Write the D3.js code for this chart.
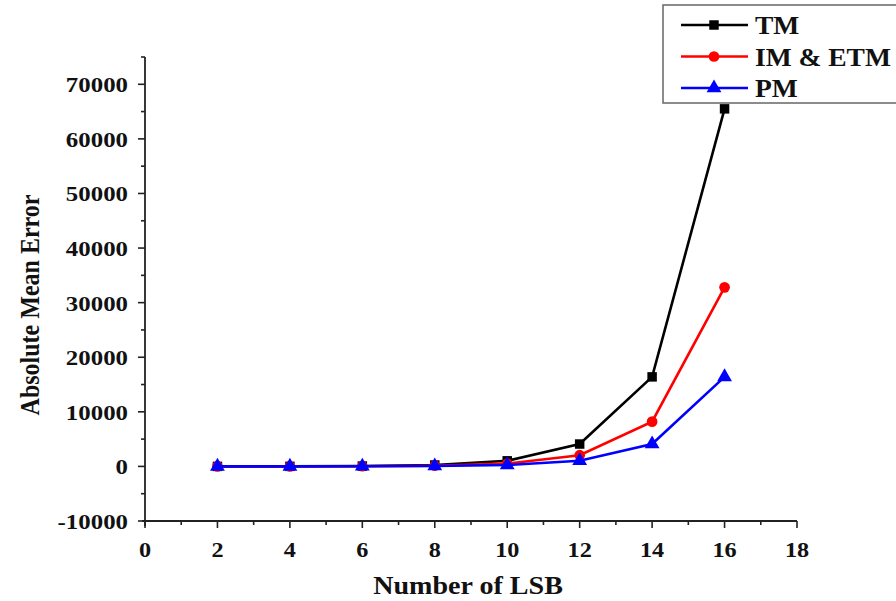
<!DOCTYPE html>
<html><head><meta charset="utf-8">
<script src="https://cdn.jsdelivr.net/npm/d3@7"></script>
<style>body{margin:0;background:#fff}svg{display:block}</style>
</head><body>
<svg id="c" width="896" height="601"></svg>
<script>
const lsb = [2,4,6,8,10,12,14,16];
const tmValues = [4, 16, 64, 256, 1024, 4100, 16400, 65500];
const imEtmValues = [2, 8, 32, 128, 512, 2050, 8200, 32800];
const pmValues = [1, 4, 16, 64, 256, 1030, 4100, 16400];
const seriesNames = ["TM", "IM & ETM", "PM"];
const xTicks = [0,2,4,6,8,10,12,14,16,18];
const yTicks = [-10000,0,10000,20000,30000,40000,50000,60000,70000];

const svg = d3.select("#c");
const font = "'Liberation Serif','Times New Roman',serif";
const x = d3.scaleLinear().domain([0,18]).range([145,797]);
const y = d3.scaleLinear().domain([-10000,75000]).range([521,57]);

// axes
const xAxis = svg.append("g").attr("transform","translate(0,521)");
xAxis.append("line").attr("x1",x(0)-3).attr("x2",x(18)).attr("stroke","#222").attr("stroke-width",1.8);
d3.range(0,19,1).forEach(v=>{
  const major = v%2===0;
  xAxis.append("line").attr("x1",x(v)).attr("x2",x(v)).attr("y1",0).attr("y2",major?7:4)
    .attr("stroke","#222").attr("stroke-width",1.6);
});
xTicks.forEach(v=>{
  xAxis.append("text").attr("transform",`translate(${x(v)},36) scale(1.1,1)`).attr("text-anchor","middle")
    .attr("font-family",font).attr("font-weight","bold").attr("font-size",22).attr("fill","#111").text(v);
});
const yAxis = svg.append("g").attr("transform","translate(145,0)");
yAxis.append("line").attr("y1",y(-10000)+5).attr("y2",y(75000)).attr("stroke","#222").attr("stroke-width",1.8);
d3.range(-10000,75001,5000).forEach(v=>{
  const major = v%10000===0;
  yAxis.append("line").attr("x1",0).attr("x2",major?-7:-4).attr("y1",y(v)).attr("y2",y(v))
    .attr("stroke","#222").attr("stroke-width",1.6);
});
yTicks.forEach(v=>{
  yAxis.append("text").attr("transform",`translate(-17,${y(v)}) scale(1.13,1)`).attr("dy","0.36em").attr("text-anchor","end")
    .attr("font-family",font).attr("font-weight","bold").attr("font-size",22).attr("fill","#111").text(v);
});

svg.append("text").attr("transform","translate(468,594) scale(1.08,1)").attr("text-anchor","middle")
  .attr("font-family",font).attr("font-weight","bold").attr("font-size",26).attr("fill","#111").text("Number of LSB");
svg.append("text").attr("transform","translate(39,305) rotate(-90) scale(1,1.15)").attr("text-anchor","middle")
  .attr("font-family",font).attr("font-weight","bold").attr("font-size",24).attr("fill","#111").text("Absolute Mean Error");

const series = [
  {name:seriesNames[0], vals:tmValues, color:"#000", marker:"square"},
  {name:seriesNames[1], vals:imEtmValues, color:"#f00", marker:"circle"},
  {name:seriesNames[2], vals:pmValues, color:"#00f", marker:"triangle"}
];
const sym = {square:d3.symbolSquare, circle:d3.symbolCircle, triangle:d3.symbolTriangle};
const line = d3.line().x(d=>x(d[0])).y(d=>y(d[1]));
series.forEach(s=>{
  const pts = lsb.map((v,i)=>[v,s.vals[i]]);
  svg.append("path").attr("d",line(pts)).attr("fill","none").attr("stroke",s.color).attr("stroke-width",2.6);
  svg.selectAll(null).data(pts).enter().append("path")
    .attr("transform",d=>`translate(${x(d[0])},${y(d[1])})`)
    .attr("d",d3.symbol().type(sym[s.marker]).size(s.marker==="triangle"?95:90))
    .attr("fill",s.color);
});

// legend
const lg = svg.append("g");
lg.append("rect").attr("x",663).attr("y",5).attr("width",260).attr("height",98)
  .attr("fill","#fff").attr("stroke","#666").attr("stroke-width",1.5);
series.forEach((s,i)=>{
  const yy = 25 + i*31.5;
  lg.append("line").attr("x1",681).attr("x2",748).attr("y1",yy).attr("y2",yy).attr("stroke",s.color).attr("stroke-width",2.6);
  lg.append("path").attr("transform",`translate(714,${yy})`)
    .attr("d",d3.symbol().type(sym[s.marker]).size(s.marker==="triangle"?95:90)).attr("fill",s.color);
  lg.append("text").attr("transform",`translate(755,${yy}) scale(1.1,1)`).attr("dy","0.36em")
    .attr("font-family",font).attr("font-weight","bold").attr("font-size",25).attr("fill","#111").text(s.name);
});
</script>
</body></html>
